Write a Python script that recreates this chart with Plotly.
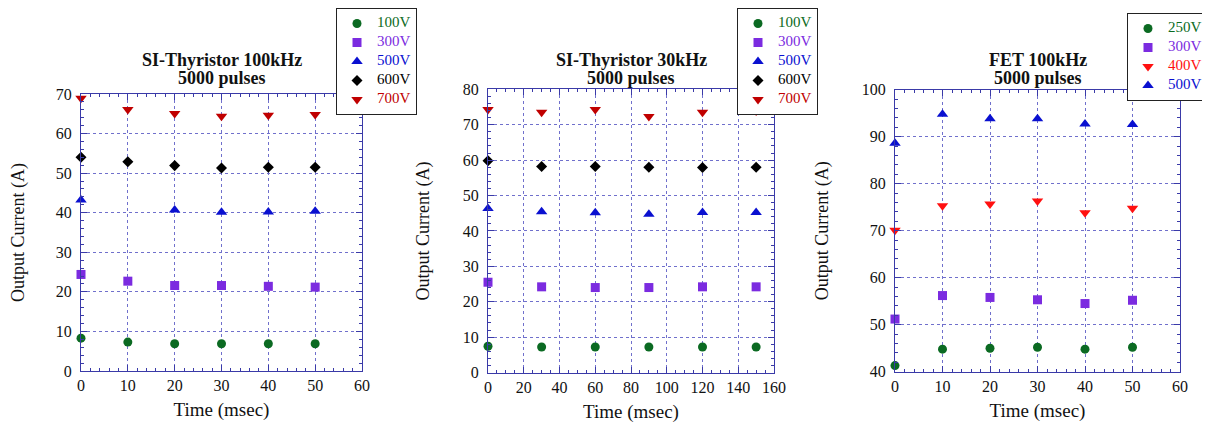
import plotly.graph_objects as go

# ---------------- data ----------------
# Panel 1: SI-Thyristor 100kHz
t1 = [0, 10, 20, 30, 40, 50]
t1_500 = [0, 20, 30, 40, 50]
p1_100 = [8.3, 7.3, 6.9, 6.9, 6.9, 6.9]
p1_300 = [24.4, 22.7, 21.6, 21.6, 21.4, 21.2]
p1_500 = [43.2, 40.7, 40.1, 40.2, 40.4]
p1_600 = [54.0, 52.9, 51.9, 51.3, 51.5, 51.5]
p1_700 = [68.9, 66.1, 65.1, 64.4, 64.6, 64.8]

# Panel 2: SI-Thyristor 30kHz
t2 = [0, 30, 60, 90, 120, 150]
p2_100 = [7.4, 7.2, 7.2, 7.2, 7.2, 7.2]
p2_300 = [25.5, 24.2, 24.0, 24.0, 24.2, 24.2]
p2_500 = [46.3, 45.4, 45.1, 44.7, 45.2, 45.2]
p2_600 = [59.8, 58.2, 58.2, 58.0, 57.9, 58.0]
p2_700 = [74.3, 73.5, 74.3, 72.3, 73.5, 73.9]

# Panel 3: FET 100kHz
t3 = [0, 10, 20, 30, 40, 50]
p3_250 = [41.3, 44.8, 45.0, 45.2, 44.8, 45.2]
p3_300 = [51.2, 56.2, 55.8, 55.3, 54.5, 55.2]
p3_400 = [70.1, 75.3, 75.7, 76.3, 73.8, 74.8]
p3_500 = [88.6, 94.8, 93.8, 93.8, 92.7, 92.6]

titles_l1 = ["SI-Thyristor 100kHz", "SI-Thyristor 30kHz", "FET 100kHz"]
titles_l2 = ["5000 pulses", "5000 pulses", "5000 pulses"]
x_title = "Time (msec)"
y_title = "Output Current (A)"

# ---------------- style ----------------
GREEN = "#0b6a22"
PURPLE = "#7b2be0"
BLUE = "#0a10d0"
BLACK = "#000000"
DKRED = "#c00000"
RED = "#ff1010"
FONT = "Liberation Serif"

W, H = 1210, 422
OFF = 8  # page body margin offset

def px_x(p):
    return (p - OFF) / W

def px_y(p):
    return 1 - (p - OFF) / H

fig = go.Figure()

def add(xs, ys, name, color, symbol, size, xa, ya, leg):
    fig.add_trace(go.Scatter(
        x=xs, y=ys, mode="markers", name=name,
        marker=dict(color=color, symbol=symbol, size=size, line=dict(width=0)),
        xaxis=xa, yaxis=ya, legend=leg, cliponaxis=False,
    ))

def lab(t, c):
    return "<span style='color:%s;font-size:15px'>%s</span>" % (c, t)

add(t1, p1_100, lab("100V", GREEN), GREEN, "circle", 9, "x", "y", "legend")
add(t1, p1_300, lab("300V", PURPLE), PURPLE, "square", 9, "x", "y", "legend")
add(t1_500, p1_500, lab("500V", BLUE), BLUE, "triangle-up", 10, "x", "y", "legend")
add(t1, p1_600, lab("600V", BLACK), BLACK, "diamond", 8.5, "x", "y", "legend")
add(t1, p1_700, lab("700V", DKRED), DKRED, "triangle-down", 10, "x", "y", "legend")

add(t2, p2_100, lab("100V", GREEN), GREEN, "circle", 9, "x2", "y2", "legend2")
add(t2, p2_300, lab("300V", PURPLE), PURPLE, "square", 9, "x2", "y2", "legend2")
add(t2, p2_500, lab("500V", BLUE), BLUE, "triangle-up", 10, "x2", "y2", "legend2")
add(t2, p2_600, lab("600V", BLACK), BLACK, "diamond", 8.5, "x2", "y2", "legend2")
add(t2, p2_700, lab("700V", DKRED), DKRED, "triangle-down", 10, "x2", "y2", "legend2")

add(t3, p3_250, lab("250V", GREEN), GREEN, "circle", 9, "x3", "y3", "legend3")
add(t3, p3_300, lab("300V", PURPLE), PURPLE, "square", 9, "x3", "y3", "legend3")
add(t3, p3_400, lab("400V", RED), RED, "triangle-down", 10, "x3", "y3", "legend3")
add(t3, p3_500, lab("500V", BLUE), BLUE, "triangle-up", 10, "x3", "y3", "legend3")

AXCOL = "#3a3aa8"
GRIDCOL = "#7070cc"

def common_axis(dom, rng, dtick, minor_d, anchor, title, tsize, standoff, tls):
    return dict(domain=dom, range=rng, dtick=dtick, tick0=0, anchor=anchor,
                automargin=False,
                showline=True, linecolor=AXCOL, linewidth=1, mirror="allticks",
                ticks="inside", ticklen=6, tickcolor=AXCOL,
                ticklabelstandoff=tls,
                minor=dict(dtick=minor_d, ticks="inside", ticklen=3, tickcolor=AXCOL, showgrid=False),
                showgrid=True, gridcolor=GRIDCOL, griddash="dot", gridwidth=1,
                zeroline=False,
                tickfont=dict(family=FONT, size=16, color="#111"),
                title=dict(text=title, font=dict(family=FONT, size=tsize, color="#111"), standoff=standoff))

def xaxis(dom, rng, dtick, minor_d, anchor):
    return common_axis(dom, rng, dtick, minor_d, anchor, x_title, 19, 9, 0)

def yaxis(dom, rng, dtick, minor_d, anchor):
    return common_axis(dom, rng, dtick, minor_d, anchor, y_title, 18, 28, 5)

fig.update_layout(
    width=W, height=H,
    margin=dict(l=0, r=0, t=0, b=0, autoexpand=False),
    paper_bgcolor="white", plot_bgcolor="white",
    font=dict(family=FONT, color="#111"),
    xaxis=xaxis([px_x(81), px_x(362)], [0, 60], 10, 2, "y"),
    yaxis=yaxis([px_y(371), px_y(94)], [0, 70], 10, 2, "x"),
    xaxis2=xaxis([px_x(488), px_x(774)], [0, 160], 20, 5, "y2"),
    yaxis2=yaxis([px_y(372.5), px_y(89.3)], [0, 80], 10, 2, "x2"),
    xaxis3=xaxis([px_x(895), px_x(1180)], [0, 60], 10, 2, "y3"),
    yaxis3=yaxis([px_y(371.7), px_y(89.7)], [40, 100], 10, 2, "x3"),
)

legcommon = dict(bgcolor="white", bordercolor="#222", borderwidth=1,
                 font=dict(family=FONT, size=10), xanchor="left", yanchor="top",
                 itemwidth=30, tracegroupgap=0)
fig.update_layout(
    legend=dict(x=px_x(336), y=px_y(8), **legcommon),
    legend2=dict(x=px_x(737), y=px_y(8), **legcommon),
    legend3=dict(x=px_x(1127), y=px_y(13), **legcommon),
)

centers = [221.5, 631, 1037.5]
for c, t1_, t2_ in zip(centers, titles_l1, titles_l2):
    fig.add_annotation(text="<b>" + t1_ + "</b>", x=px_x(c), y=px_y(60),
                       xref="paper", yref="paper", xanchor="center", yanchor="middle",
                       showarrow=False, font=dict(family=FONT, size=18, color="#111"))
    fig.add_annotation(text="<b>" + t2_ + "</b>", x=px_x(c), y=px_y(77.5),
                       xref="paper", yref="paper", xanchor="center", yanchor="middle",
                       showarrow=False, font=dict(family=FONT, size=18, color="#111"))

fig.write_html("out.html")
